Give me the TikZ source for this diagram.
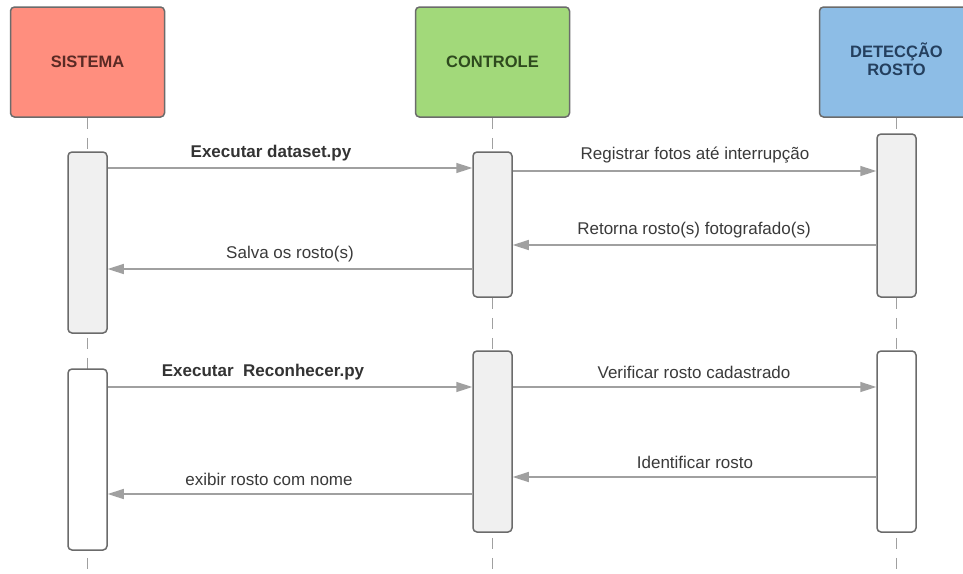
\documentclass[tikz,border=0pt]{standalone}
\usepackage{fontspec}
\setmainfont{Liberation Sans}
\usetikzlibrary{arrows.meta}
\definecolor{redfill}{HTML}{FF8E7E}
\definecolor{greenfill}{HTML}{A2D97A}
\definecolor{bluefill}{HTML}{8DBDE6}
\definecolor{redtext}{HTML}{5A2A24}
\definecolor{greentext}{HTML}{2E4A1E}
\definecolor{bluetext}{HTML}{243F5E}
\definecolor{edge}{HTML}{6B6B6B}
\definecolor{linegrey}{HTML}{A0A0A0}
\definecolor{bargrey}{HTML}{F0F0F0}
\definecolor{labeltext}{HTML}{3A3A3A}
\begin{document}
\begin{tikzpicture}[x=1pt,y=-1pt,
  header/.style={draw=edge,line width=1.5pt,rounded corners=4pt,minimum width=154pt,minimum height=110pt,
    font=\fontsize{16.5}{19}\selectfont\bfseries,align=center,inner sep=0pt},
  actbar/.style={draw=edge,line width=1.5pt,rounded corners=4pt,minimum width=39pt,inner sep=0pt,fill=bargrey},
  whitebar/.style={actbar,fill=white},
  lifeline/.style={draw=linegrey,line width=1.3pt,dash pattern=on 11pt off 9pt},
  msg/.style={draw=linegrey,line width=1.5pt,-{Triangle[length=16pt,width=10pt]}},
  msglabel/.style={font=\fontsize{17}{20}\selectfont,text=labeltext,inner sep=0pt},
  boldlabel/.style={msglabel,font=\fontsize{17}{20}\selectfont\bfseries,text=black!80}
]
\useasboundingbox (0,0) rectangle (963,573);
\clip (0,0) rectangle (963,573);
\fill[white] (0,0) rectangle (963,573);

% headers
\node[header,fill=redfill,text=redtext] (hs) at (87.5,62) {SISTEMA};
\node[header,fill=greenfill,text=greentext] (hc) at (492.5,62) {CONTROLE};
\node[header,fill=bluefill,text=bluetext] (hd) at (896.5,62) {};
\node[font=\fontsize{16.5}{19}\selectfont\bfseries,text=bluetext,align=center,inner sep=0pt] (hdt) at (896.5,59) {DETECÇÃO\\[-1pt]ROSTO};

% lifeline ends
\coordinate (es) at (87.5,573);
\coordinate (ec) at (492.5,573);
\coordinate (ed) at (896.5,573);
\draw[lifeline] (hs.south) -- (es);
\draw[lifeline] (hc.south) -- (ec);
\draw[lifeline] (hd.south) -- (ed);

% activation bars
\node[actbar,minimum height=181pt] (s1) at (87.5,242.5) {};
\node[actbar,minimum height=145pt] (c1) at (492.5,224.5) {};
\node[actbar,minimum height=163pt] (d1) at (896.5,215.5) {};
\node[whitebar,minimum height=181pt] (s2) at (87.5,459.5) {};
\node[actbar,minimum height=181pt] (c2) at (492.5,441.5) {};
\node[whitebar,minimum height=181pt] (d2) at (896.5,441.5) {};

% message levels
\coordinate (y1) at (0,168);
\coordinate (y2) at (0,171);
\coordinate (y3) at (0,245);
\coordinate (y4) at (0,269);
\coordinate (y5) at (0,387);
\coordinate (y6) at (0,387);
\coordinate (y7) at (0,477);
\coordinate (y8) at (0,494);

\draw[msg] (s1.east |- y1) -- (c1.west |- y1);
\draw[msg] (c1.east |- y2) -- (d1.west |- y2);
\draw[msg] (d1.west |- y3) -- (c1.east |- y3);
\draw[msg] (c1.west |- y4) -- (s1.east |- y4);
\draw[msg] (s2.east |- y5) -- (c2.west |- y5);
\draw[msg] (c2.east |- y6) -- (d2.west |- y6);
\draw[msg] (d2.west |- y7) -- (c2.east |- y7);
\draw[msg] (c2.west |- y8) -- (s2.east |- y8);

% labels
\node[boldlabel] (l1) at (271,153) {Executar dataset.py};
\node[msglabel] (l2) at (695,155) {Registrar fotos até interrupção};
\node[msglabel] (l3) at (694,230) {Retorna rosto(s) fotografado(s)};
\node[msglabel] (l4) at (290,254) {Salva os rosto(s)};
\node[boldlabel] (l5) at (263,372) {Executar\ \ Reconhecer.py};
\node[msglabel] (l6) at (694,372) {Verificar rosto cadastrado};
\node[msglabel] (l7) at (695,462) {Identificar rosto};
\node[msglabel] (l8) at (269,479) {exibir rosto com nome};
\end{tikzpicture}
\end{document}
